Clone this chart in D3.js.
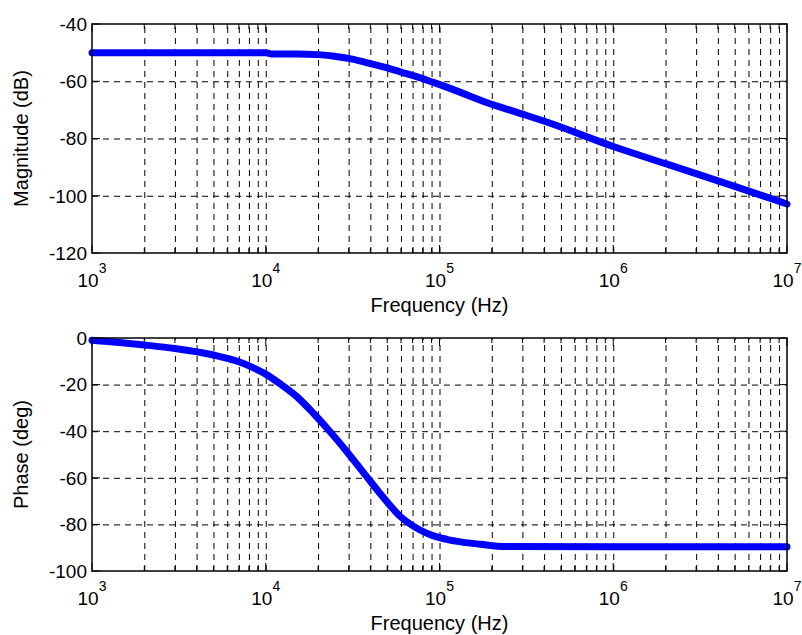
<!DOCTYPE html>
<html>
<head>
<meta charset="utf-8">
<script src="https://cdn.jsdelivr.net/npm/d3@7"></script>
<style>
  body { margin: 0; background: #fff; }
  svg { display: block; font-family: "Liberation Sans", Arial, sans-serif; }
</style>
</head>
<body>
<div id="chart"></div>
<script>
// magnitude response
var magFreq = [1e3, 3e3, 1e4, 1.08e4, 1.5e4, 2e4, 2.5e4, 3e4, 3.7e4, 4.75e4, 6e4, 7.4e4, 9e4, 1.15e5, 1.5e5, 1.78e5, 2.77e5, 4.3e5, 1e6, 2e6, 5e6, 1e7];
var magDb   = [-50, -50, -50, -50.5, -50.5, -50.7, -51.3, -52, -53.3, -55, -56.8, -58.4, -60.2, -62.5, -65.2, -67, -70.8, -74.6, -82.8, -88.8, -96.7, -102.9];

// phase response
var phFreq = [1e3, 2e3, 3e3, 5e3, 7e3, 8.5e3, 1e4, 1.2e4, 1.5e4, 1.88e4, 2.3e4, 2.93e4, 3.81e4, 4.55e4, 5.93e4, 7.73e4, 9e4, 1.1e5, 1.35e5, 1.71e5, 2.4e5, 1e6, 1e7];
var phDeg  = [-1, -3, -4.5, -7.3, -10.2, -12.8, -15.5, -19.5, -25, -32.3, -39.5, -48.8, -59.5, -66.7, -76.5, -82.4, -84.6, -86.4, -87.6, -88.5, -89.5, -89.6, -89.6];

var decades = [1e3, 1e4, 1e5, 1e6, 1e7];
var magTicks = [-120, -100, -80, -60, -40];
var phTicks = [-100, -80, -60, -40, -20, 0];

var width = 802, height = 635;
var left = 92, right = 787;

var svg = d3.select("#chart").append("svg")
  .attr("width", width)
  .attr("height", height);

function panel(top, bottom, yDomain, yTicks, yLabel, xs, ys) {
  var x = d3.scaleLog().domain([1e3, 1e7]).range([left, right]);
  var y = d3.scaleLinear().domain(yDomain).range([bottom, top]);
  var h = bottom - top;
  var g = svg.append("g");

  var allX = x.ticks();

  // vertical grid
  g.append("g")
    .attr("transform", "translate(0," + bottom + ")")
    .call(d3.axisBottom(x).tickValues(allX.filter(function (d) { return d > 1e3 && d < 1e7; }))
      .tickSize(-h).tickFormat(""))
    .call(function (a) {
      a.select(".domain").remove();
      a.selectAll("line").attr("stroke", "#000").attr("stroke-dasharray", "6,5");
    });

  // horizontal grid
  g.append("g")
    .attr("transform", "translate(" + left + ",0)")
    .call(d3.axisLeft(y).tickValues(yTicks.filter(function (d) { return d > yDomain[0] && d < yDomain[1]; }))
      .tickSize(-(right - left)).tickFormat(""))
    .call(function (a) {
      a.select(".domain").remove();
      a.selectAll("line").attr("stroke", "#000").attr("stroke-dasharray", "6,5");
    });

  // inward ticks on all four sides
  var tickG = g.append("g").attr("stroke", "#000").attr("stroke-width", 1);
  allX.forEach(function (d) {
    var len = decades.indexOf(d) >= 0 ? 8 : 5;
    tickG.append("line").attr("x1", x(d)).attr("x2", x(d)).attr("y1", bottom).attr("y2", bottom - len);
    tickG.append("line").attr("x1", x(d)).attr("x2", x(d)).attr("y1", top).attr("y2", top + len);
  });
  yTicks.forEach(function (d) {
    tickG.append("line").attr("x1", left).attr("x2", left + 8).attr("y1", y(d)).attr("y2", y(d));
    tickG.append("line").attr("x1", right).attr("x2", right - 8).attr("y1", y(d)).attr("y2", y(d));
  });

  // the curve
  var line = d3.line()
    .x(function (d) { return x(d[0]); })
    .y(function (d) { return y(d[1]); })
    .curve(d3.curveMonotoneX);
  g.append("path")
    .datum(d3.zip(xs, ys))
    .attr("d", line)
    .attr("fill", "none")
    .attr("stroke", "#0000ff")
    .attr("stroke-width", 7)
    .attr("stroke-linecap", "round")
    .attr("stroke-linejoin", "round");

  // frame
  g.append("rect")
    .attr("x", left).attr("y", top)
    .attr("width", right - left).attr("height", h)
    .attr("fill", "none").attr("stroke", "#000").attr("stroke-width", 1.5);

  // y tick labels
  g.selectAll(".ylab").data(yTicks).enter().append("text")
    .attr("x", left - 5)
    .attr("y", function (d) { return y(d); })
    .attr("dy", "0.36em")
    .attr("text-anchor", "end")
    .attr("font-size", 19)
    .text(function (d) { return d; });

  // x tick labels 10^n
  decades.forEach(function (d) {
    var t = g.append("text")
      .attr("x", x(d))
      .attr("y", bottom + 34)
      .attr("text-anchor", "middle")
      .attr("font-size", 19);
    t.append("tspan").text("10");
    t.append("tspan").attr("dy", -14).attr("font-size", 14).text(Math.round(Math.log10(d)));
  });

  // axis titles
  g.append("text")
    .attr("x", (left + right) / 2)
    .attr("y", bottom + 59)
    .attr("text-anchor", "middle")
    .attr("font-size", 20)
    .text("Frequency (Hz)");

  g.append("text")
    .attr("transform", "translate(28," + ((top + bottom) / 2) + ") rotate(-90)")
    .attr("text-anchor", "middle")
    .attr("font-size", 20)
    .text(yLabel);
}

panel(24, 253, [-120, -40], magTicks, "Magnitude (dB)", magFreq, magDb);
panel(338, 571, [-100, 0], phTicks, "Phase (deg)", phFreq, phDeg);
</script>
</body>
</html>
